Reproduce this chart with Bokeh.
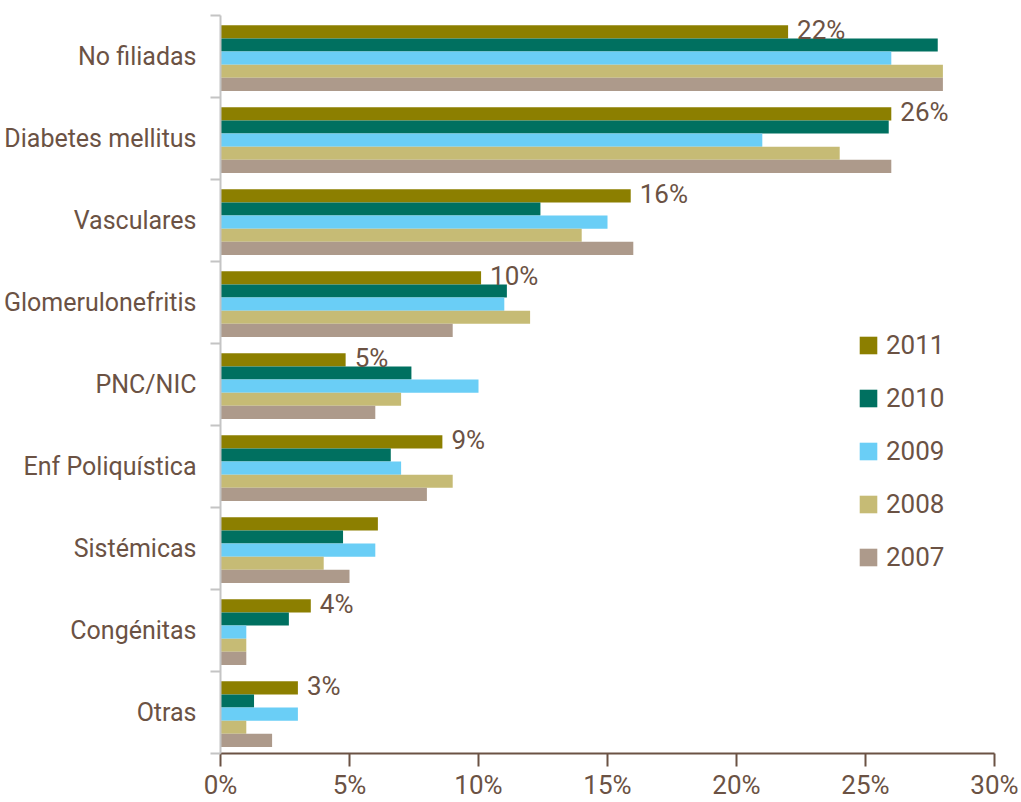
from bokeh.plotting import figure
from bokeh.models import Range1d, FixedTicker, PrintfTickFormatter, Legend, LegendItem
from bokeh.core.properties import value
from bokeh.embed import file_html
from bokeh.resources import INLINE

categories = ["No filiadas", "Diabetes mellitus", "Vasculares", "Glomerulonefritis",
              "PNC/NIC", "Enf Poliquística", "Sistémicas", "Congénitas", "Otras"]
years = ["2011", "2010", "2009", "2008", "2007"]
v2011 = [22.0, 26.0, 15.9, 10.1, 4.85, 8.6, 6.1, 3.5, 3.0]
v2010 = [27.8, 25.9, 12.4, 11.1, 7.4, 6.6, 4.75, 2.65, 1.3]
v2009 = [26.0, 21.0, 15.0, 11.0, 10.0, 7.0, 6.0, 1.0, 3.0]
v2008 = [28.0, 24.0, 14.0, 12.0, 7.0, 9.0, 4.0, 1.0, 1.0]
v2007 = [28.0, 26.0, 16.0, 9.0, 6.0, 8.0, 5.0, 1.0, 2.0]
labels2011 = ["22%", "26%", "16%", "10%", "5%", "9%", "", "4%", "3%"]
x_ticks = [0, 5, 10, 15, 20, 25, 30]

series = [v2011, v2010, v2009, v2008, v2007]
colors = ["#8c7f00", "#007060", "#6acef6", "#c6bb75", "#ad9a8b"]
brown = "#6b5244"
font = "Roboto"

p = figure(width=1021, height=802, output_backend="svg", toolbar_location=None,
           x_range=Range1d(0, 30), y_range=Range1d(len(categories) - 0.5, -0.5),
           min_border_left=220, min_border_right=27, min_border_top=15, min_border_bottom=48)
p.outline_line_color = None
p.xgrid.visible = False
p.ygrid.visible = False
p.background_fill_color = "white"

n = len(categories)
bw = 0.16
items = []
for j, (vals, col, yr) in enumerate(zip(series, colors, years)):
    ys = [i + 0.02 + (j - 2) * bw for i in range(n)]
    r = p.hbar(y=ys, left=0, right=vals, height=bw, fill_color=col, line_color=None)
    items.append(LegendItem(label=yr, renderers=[r]))

lab_y = [i + 0.02 - 2 * bw - 0.025 for i in range(n)]
p.text(x=v2011, y=lab_y, text=labels2011, x_offset=9, text_baseline="middle",
       text_align="left", text_font=value(font), text_font_size="26px", text_color=brown)

legend = Legend(items=items, location=(637, 181), padding=0, margin=0,
                glyph_width=22, glyph_height=22, label_height=22, spacing=23,
                label_standoff=7, label_text_font=font, label_text_font_size="26px",
                label_text_color=brown, background_fill_alpha=0, border_line_color=None)
p.add_layout(legend, "center")

xa = p.xaxis[0]
xa.ticker = FixedTicker(ticks=x_ticks)
xa.formatter = PrintfTickFormatter(format="%d%%")
xa.axis_line_color = brown
xa.axis_line_width = 2
xa.major_tick_line_color = brown
xa.major_tick_line_width = 2
xa.major_tick_out = 13
xa.major_tick_in = 0
xa.minor_tick_line_color = None
xa.major_label_standoff = 3
xa.major_label_text_font = font
xa.major_label_text_font_size = "26px"
xa.major_label_text_color = brown

ya = p.yaxis[0]
ya.ticker = FixedTicker(ticks=list(range(n)), minor_ticks=[i - 0.5 for i in range(n + 1)])
ya.major_label_overrides = {i: c for i, c in enumerate(categories)}
ya.axis_line_color = "#c4c4c4"
ya.axis_line_width = 2
ya.major_tick_line_color = None
ya.major_tick_out = 0
ya.major_tick_in = 0
ya.minor_tick_line_color = "#c4c4c4"
ya.minor_tick_line_width = 2
ya.minor_tick_out = 10
ya.minor_tick_in = 0
ya.major_label_standoff = 14
ya.major_label_text_font = font
ya.major_label_text_font_size = "25px"
ya.major_label_text_color = brown

open("out.html", "w").write(file_html(p, INLINE))
